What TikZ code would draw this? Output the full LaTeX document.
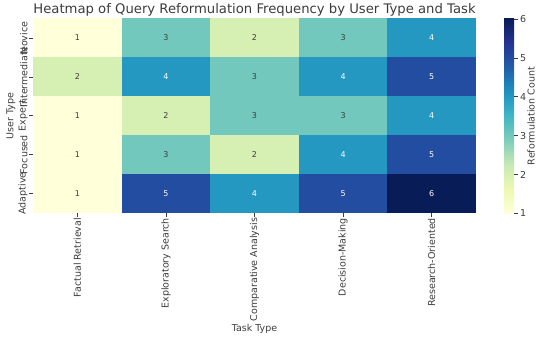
\documentclass[tikz,border=0pt]{standalone}
\usepackage{fontspec}
\setmainfont{DejaVu Sans}
\usepackage{tikz}
\usepackage{xcolor}
\definecolor{yb0}{RGB}{255,255,217}
\definecolor{yb1}{RGB}{237,248,177}
\definecolor{yb2}{RGB}{199,233,180}
\definecolor{yb3}{RGB}{127,205,187}
\definecolor{yb4}{RGB}{65,182,196}
\definecolor{yb5}{RGB}{29,145,192}
\definecolor{yb6}{RGB}{34,94,168}
\definecolor{yb7}{RGB}{37,52,148}
\definecolor{yb8}{RGB}{8,29,88}
\definecolor{heat1}{RGB}{255,255,217}
\definecolor{heat2}{RGB}{214,239,179}
\definecolor{heat3}{RGB}{115,200,189}
\definecolor{heat4}{RGB}{36,152,193}
\definecolor{heat5}{RGB}{35,77,160}
\definecolor{heat6}{RGB}{8,29,88}
\definecolor{labelgray}{RGB}{60,60,60}
\pgfdeclareverticalshading{ylgnbu}{100bp}{color(0bp)=(yb0); color(25bp)=(yb0); color(31.25bp)=(yb1); color(37.5bp)=(yb2); color(43.75bp)=(yb3); color(50bp)=(yb4); color(56.25bp)=(yb5); color(62.5bp)=(yb6); color(68.75bp)=(yb7); color(75bp)=(yb8); color(100bp)=(yb8)}
\tikzset{
    cell/.style = {rectangle, minimum width=88.8pt, minimum height=39.1pt, inner sep=0pt, font=\fontsize{8}{10}\selectfont},
    ticklabel/.style = {inner sep=0pt, text=labelgray, font=\fontsize{9.5}{11}\selectfont},
    axislabel/.style = {inner sep=0pt, text=labelgray, font=\fontsize{9.5}{11}\selectfont},
    titletext/.style = {inner sep=0pt, text=labelgray, font=\fontsize{13.2}{15}\selectfont},
    tickmark/.style = {draw=labelgray, line width=0.6pt},
    colorbar/.style = {rectangle, minimum width=10pt, minimum height=194.5pt, inner sep=0pt, shading=ylgnbu, anchor=north west}
}
\begin{document}
\begin{tikzpicture}[x=1pt, y=-1pt]
\useasboundingbox (0,0) rectangle (536,338);
\node (title) [titletext] at (254.5,10) {Heatmap of Query Reformulation Frequency by User Type and Task};

\foreach \vals [count=\r] in {{1,3,2,3,4},{2,4,3,4,5},{1,2,3,3,4},{1,3,2,4,5},{1,5,4,5,6}} {
    \foreach \v [count=\c] in \vals {
        \ifnum\v>3 \def\numcol{white}\else\def\numcol{labelgray}\fi
        \node (cell-\r-\c) [cell, fill=heat\v, text=\numcol] at ({33+88.6*(\c-0.5)},{18.5+38.9*(\r-0.5)}) {\v};
    }
}

\foreach \name [count=\r] in {Novice, Intermediate, Expert, Focused, Adaptive} {
    \draw [tickmark] (cell-\r-1.west) -- ++(-3.5,0) coordinate (ytick-\r);
    \node (ylab-\r) [ticklabel, rotate=90, anchor=south] at ([xshift=-1.5pt]ytick-\r) {\name};
}
\foreach \name [count=\c] in {Factual Retrieval, Exploratory Search, Comparative Analysis, Decision-Making, Research-Oriented} {
    \draw [tickmark] (cell-5-\c.south) -- ++(0,3.5) coordinate (xtick-\c);
    \node (xlab-\c) [ticklabel, rotate=90, anchor=east] at ([yshift=-1pt]xtick-\c) {\name};
}
\node (xaxis) [axislabel] at (254.5,329) {Task Type};
\node (yaxis) [axislabel, rotate=90] at (11,116) {User Type};

\node (cbar) [colorbar] at (504,18.5) {};
\foreach \t in {1,...,6} {
    \pgfmathsetmacro\ty{38.9*(\t-1)}
    \draw [tickmark] ([yshift=\ty pt]cbar.south east) -- ++(3.5,0) coordinate (ctick-\t);
    \node (clab-\t) [ticklabel, anchor=west] at ([xshift=2pt]ctick-\t) {\t};
}
\node (cbarlabel) [axislabel, rotate=90] at (531,116) {Reformulation Count};
\end{tikzpicture}
\end{document}
